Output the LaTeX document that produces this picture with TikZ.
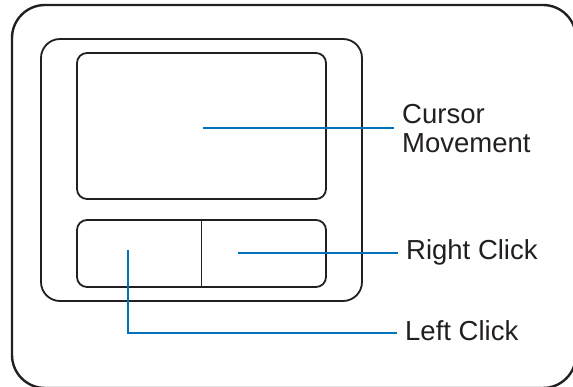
\documentclass[tikz,border=0pt]{standalone}
\usepackage{fontspec}
\setmainfont{Liberation Sans}
\usetikzlibrary{positioning,calc}
\definecolor{ink}{HTML}{231F20}
\definecolor{leadblue}{HTML}{0072BC}
\tikzset{
  frame/.style ={draw=ink, line width=2.4pt, rounded corners=33pt},
  well/.style  ={draw=ink, line width=1.8pt, rounded corners=19pt, inner sep=0pt},
  pad/.style   ={draw=ink, line width=1.8pt, rounded corners=10pt, inner sep=0pt},
  lead/.style  ={draw=leadblue, line width=1.4pt},
  lbl/.style   ={text=ink, font=\fontsize{27.5}{29}\selectfont, align=left,
                 inner xsep=8pt, inner ysep=0pt},
}

\begin{document}
\begin{tikzpicture}[x=1pt, y=-1pt]
\useasboundingbox (0,0) rectangle (573,387);
\clip (0,0) rectangle (573,387);

% ---- casing and touchpad --------------------------------------------
\draw[frame] (12,5) rectangle (576,388);
\node[well, minimum width=321pt, minimum height=262pt] (well) at (201.5,170) {};
\node[pad, minimum width=249pt, minimum height=146pt] (cursor) at (201.5,126) {};
\node[pad, minimum width=249pt, minimum height=67pt] (btns) at (201.5,253.5) {};
\draw[draw=ink, line width=1.8pt] (btns.north) -- (btns.south);

% ---- labels -----------------------------------------------------------
\node[lbl, anchor=base west] (curtxt) at (394,153) {Cursor\\Movement};
\node[lbl, anchor=base west] (righttxt) at (398,260) {Right Click};
\node[lbl, anchor=base west] (lefttxt) at (397,341) {Left Click};

\coordinate (curpt) at (203,128);
\coordinate (rightpt) at (238,253);
\coordinate (leftpt) at (128,250);

\draw[lead] (curpt) -- (curpt -| curtxt.west);
\draw[lead] (rightpt) -- (rightpt -| righttxt.west);
\draw[lead] (leftpt) |- ($(lefttxt.base west)+(0,-8)$);

\end{tikzpicture}
\end{document}
